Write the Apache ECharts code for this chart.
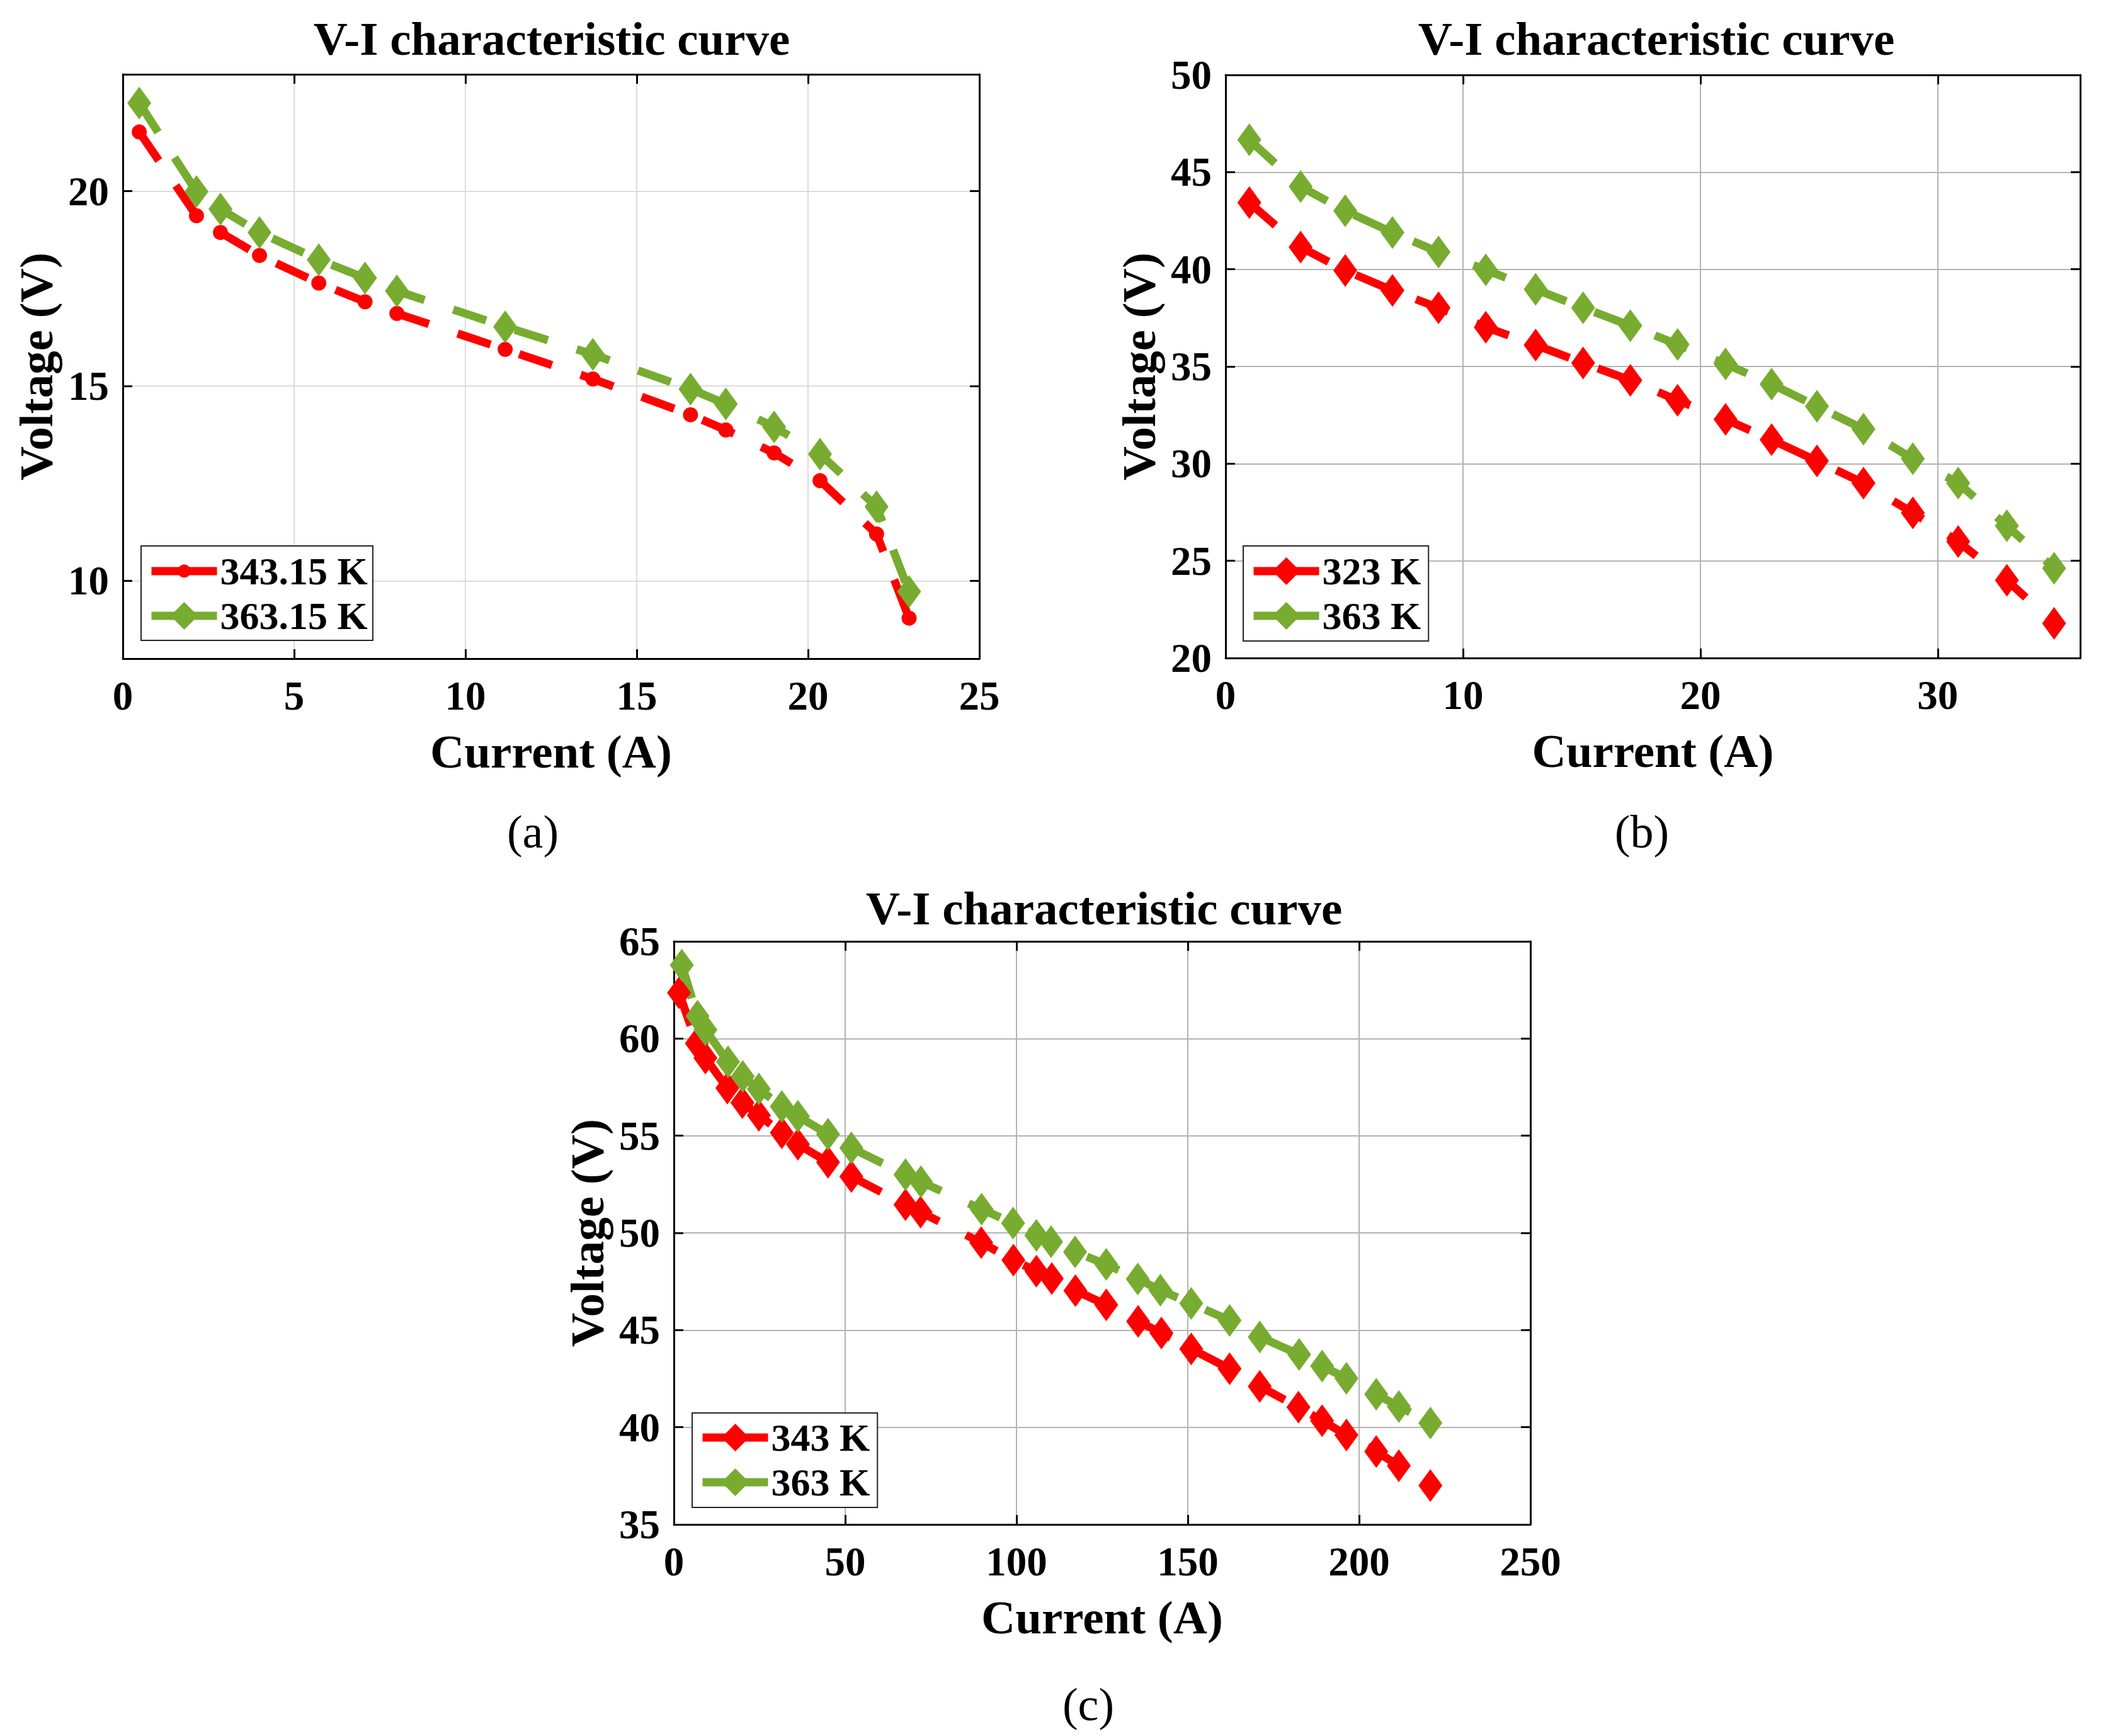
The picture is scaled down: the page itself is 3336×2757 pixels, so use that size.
<!DOCTYPE html>
<html>
<head>
<meta charset="utf-8">
<script src="https://cdn.jsdelivr.net/npm/echarts@6/dist/echarts.min.js"></script>
<style>html,body{margin:0;padding:0;background:#fff}#c{width:3336px;height:2757px}</style>
</head>
<body>
<div id="c"></div>
<script>
// ---------- data ----------
// Panel (a)
const aCurrent = [0.48, 2.15, 2.85, 3.99, 5.72, 7.07, 8.0, 11.16, 13.72, 16.57, 17.6, 19.01, 20.35, 22.0, 22.95];
const aVolt343 = [21.52, 19.37, 18.94, 18.35, 17.64, 17.16, 16.86, 15.94, 15.18, 14.26, 13.87, 13.28, 12.57, 11.2, 9.04];
const aVolt363 = [22.26, 19.99, 19.54, 18.94, 18.24, 17.77, 17.44, 16.52, 15.81, 14.92, 14.54, 13.95, 13.25, 11.9, 9.72];
const aXTicks = [0, 5, 10, 15, 20, 25];
const aYTicks = [10, 15, 20];

// Panel (b)
const bCurrent = [1.0, 3.16, 5.04, 7.03, 8.97, 10.96, 13.06, 15.06, 17.05, 19.04, 21.06, 23.0, 24.91, 26.87, 28.95, 30.86, 32.91, 34.9];
const bVolt323 = [43.43, 41.14, 39.94, 38.91, 38.02, 37.02, 36.1, 35.18, 34.29, 33.26, 32.28, 31.23, 30.14, 29.0, 27.47, 25.99, 24.0, 21.78];
const bVolt363 = [46.66, 44.26, 43.01, 41.89, 40.89, 39.97, 38.97, 38.02, 37.1, 36.13, 35.13, 34.09, 32.95, 31.78, 30.25, 29.0, 26.8, 24.62];
const bXTicks = [0, 10, 20, 30];
const bYTicks = [20, 25, 30, 35, 40, 45, 50];

// Panel (c)
const cCurrent343 = [1.5, 6.7, 9.2, 15.6, 20.0, 24.8, 31.5, 36.2, 45.0, 51.8, 67.6, 72.0, 89.7, 99.1, 105.8, 110.3, 117.2, 126.2, 135.5, 142.3, 151.0, 162.2, 171.0, 182.3, 189.2, 196.3, 205.0, 211.6, 220.8];
const cVolt343 = [62.35, 59.75, 59.0, 57.45, 56.7, 56.05, 55.15, 54.56, 53.64, 52.9, 51.45, 51.07, 49.5, 48.6, 48.03, 47.65, 47.03, 46.3, 45.45, 44.85, 44.03, 43.01, 42.1, 41.03, 40.34, 39.6, 38.75, 38.02, 37.0];
const cCurrent363 = [2.3, 6.9, 9.2, 15.8, 20.1, 24.8, 31.5, 36.2, 45.0, 51.8, 67.6, 72.1, 89.8, 99.0, 105.8, 110.1, 117.1, 126.2, 135.4, 142.0, 151.0, 162.2, 171.0, 182.5, 189.2, 196.3, 205.0, 211.6, 220.8];
const cVolt363 = [63.78, 61.15, 60.45, 58.8, 58.05, 57.4, 56.5, 56.0, 55.08, 54.37, 53.0, 52.63, 51.22, 50.5, 49.87, 49.55, 49.02, 48.38, 47.63, 47.05, 46.37, 45.5, 44.65, 43.75, 43.15, 42.52, 41.7, 41.07, 40.22];
const cXTicks = [0, 50, 100, 150, 200, 250];
const cYTicks = [35, 40, 45, 50, 55, 60, 65];

const titleText = 'V-I characteristic curve';
const xName = 'Current (A)';
const yName = 'Voltage (V)';
const subLabels = ['(a)', '(b)', '(c)'];

// ---------- styling ----------
const FONT = 'Liberation Serif';
const RED = '#ff0000';
const GREEN = '#77ac30';
const LINE_W = 13;
const DASH = [55, 48];

const panels = [
  { grid: { left: 195, top: 118, width: 1360, height: 928 }, xMin: 0, xMax: 25, xTicks: aXTicks, yMin: 8, yMax: 23, yTicks: aYTicks, gridColor: '#dcdcdc',
    title: [876, 61], sub: [846, 1321] },
  { grid: { left: 1946, top: 119, width: 1357, height: 926 }, xMin: 0, xMax: 36, xTicks: bXTicks, yMin: 20, yMax: 50, yTicks: bYTicks, gridColor: '#b3b3b3',
    title: [2630, 61], sub: [2607, 1321] },
  { grid: { left: 1070, top: 1495, width: 1360, height: 926 }, xMin: 0, xMax: 250, xTicks: cXTicks, yMin: 35, yMax: 65, yTicks: cYTicks, gridColor: '#b3b3b3',
    title: [1753, 1442], sub: [1728, 2707] }
];

const axisLine = { show: true, onZero: false, lineStyle: { color: '#000', width: 3 } };
const labelStyle = { color: '#000', fontFamily: FONT, fontSize: 65, fontWeight: 'bold' };
const nameStyle = { color: '#000', fontFamily: FONT, fontSize: 75, fontWeight: 'bold' };

const grids = [], xAxes = [], yAxes = [], graphics = [];
panels.forEach((p, i) => {
  grids.push(Object.assign({ containLabel: false }, p.grid));
  xAxes.push({
    gridIndex: i, type: 'value', min: p.xMin, max: p.xMax, position: 'bottom',
    axisLine: axisLine,
    axisTick: { show: true, inside: true, length: 15, lineStyle: { color: '#000', width: 3 }, customValues: p.xTicks },
    axisLabel: Object.assign({ customValues: p.xTicks, margin: 26, showMaxLabel: true }, labelStyle),
    splitLine: { show: true, lineStyle: { color: p.gridColor, width: 2 } },
    name: xName, nameLocation: 'middle', nameGap: 110, nameTextStyle: nameStyle
  });
  xAxes.push({
    gridIndex: i, type: 'value', min: p.xMin, max: p.xMax, position: 'top',
    axisLine: axisLine,
    axisTick: { show: true, inside: true, length: 15, lineStyle: { color: '#000', width: 3 }, customValues: p.xTicks },
    axisLabel: { show: false }, splitLine: { show: false }
  });
  yAxes.push({
    gridIndex: i, type: 'value', min: p.yMin, max: p.yMax, position: 'left',
    axisLine: axisLine,
    axisTick: { show: true, inside: true, length: 15, lineStyle: { color: '#000', width: 3 }, customValues: p.yTicks },
    axisLabel: Object.assign({ customValues: p.yTicks, margin: 22 }, labelStyle),
    splitLine: { show: true, lineStyle: { color: p.gridColor, width: 2 } },
    name: yName, nameLocation: 'middle', nameGap: 100, nameTextStyle: nameStyle
  });
  yAxes.push({
    gridIndex: i, type: 'value', min: p.yMin, max: p.yMax, position: 'right',
    axisLine: axisLine,
    axisTick: { show: true, inside: true, length: 15, lineStyle: { color: '#000', width: 3 }, customValues: p.yTicks },
    axisLabel: { show: false }, splitLine: { show: false }
  });
  graphics.push({
    type: 'text', x: p.title[0], y: p.title[1], z: 100,
    style: { text: titleText, fill: '#000', fontFamily: FONT, fontSize: 75, fontWeight: 'bold', align: 'center', verticalAlign: 'middle' }
  });
  graphics.push({
    type: 'text', x: p.sub[0], y: p.sub[1], z: 100,
    style: { text: subLabels[i], fill: '#000', fontFamily: FONT, fontSize: 74, fontWeight: 'normal', align: 'center', verticalAlign: 'middle' }
  });
});

// legend frame for panel (a) (two legend rows with different marker sizes)
graphics.push({
  type: 'rect', z: 50, shape: { x: 224, y: 867, width: 368, height: 150 },
  style: { fill: '#fff', stroke: '#262626', lineWidth: 2 }
});

function pairs(xs, ys) { return xs.map((x, k) => [x, ys[k]]); }
function lineSeries(name, idx, xs, ys, color, symbol, size) {
  return {
    type: 'line', name: name, xAxisIndex: idx * 2, yAxisIndex: idx * 2,
    data: pairs(xs, ys), symbol: symbol, symbolSize: size,
    showAllSymbol: true, clip: false,
    lineStyle: { color: color, width: LINE_W, type: DASH },
    itemStyle: { color: color, borderWidth: 0 },
    emphasis: { disabled: true }, animation: false
  };
}

const series = [
  lineSeries('343.15 K', 0, aCurrent, aVolt343, RED, 'circle', 24),
  lineSeries('363.15 K', 0, aCurrent, aVolt363, GREEN, 'diamond', [38, 52]),
  lineSeries('323 K', 1, bCurrent, bVolt323, RED, 'diamond', [38, 52]),
  lineSeries('363 K', 1, bCurrent, bVolt363, GREEN, 'diamond', [38, 52]),
  lineSeries('343 K', 2, cCurrent343, cVolt343, RED, 'diamond', [38, 52]),
  lineSeries('363 K', 2, cCurrent363, cVolt363, GREEN, 'diamond', [38, 52])
];

const legendText = { color: '#000', fontFamily: FONT, fontSize: 62, fontWeight: 'bold' };
const legendBase = {
  orient: 'vertical', selectedMode: false, itemWidth: 104, itemHeight: 55, itemGap: 9,
  textStyle: legendText, lineStyle: { type: 'solid', width: 13 }, z: 60
};
const legends = [
  Object.assign({}, legendBase, { data: ['343.15 K'], left: 234, top: 876, padding: 0, itemHeight: 26 }),
  Object.assign({}, legendBase, { data: ['363.15 K'], left: 234, top: 947, padding: 0 }),
  Object.assign({}, legendBase, { data: ['323 K', '363 K'], left: 1974, top: 867, padding: [9, 12, 9, 10],
    borderColor: '#262626', borderWidth: 2, backgroundColor: '#fff' }),
  Object.assign({}, legendBase, { data: ['343 K', '363 K'], left: 1099, top: 2244, padding: [8, 12, 9, 10],
    borderColor: '#262626', borderWidth: 2, backgroundColor: '#fff' })
];

const chart = echarts.init(document.getElementById('c'), null, { renderer: 'svg', width: 3336, height: 2757 });
chart.setOption({
  backgroundColor: '#fff',
  animation: false,
  grid: grids,
  xAxis: xAxes,
  yAxis: yAxes,
  legend: legends,
  series: series,
  graphic: graphics
});
</script>
</body>
</html>
